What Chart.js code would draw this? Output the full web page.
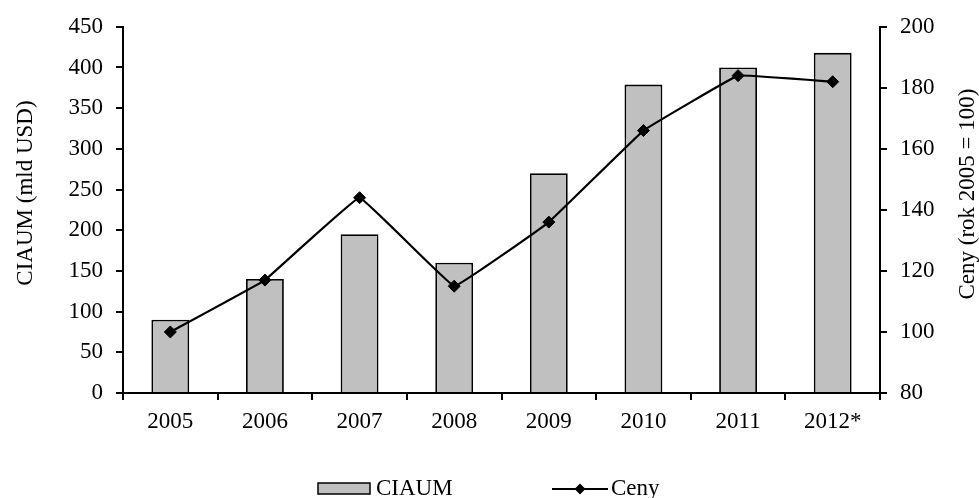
<!DOCTYPE html>
<html><head><meta charset="utf-8">
<script src="https://cdn.jsdelivr.net/npm/chart.js@4.4.1/dist/chart.umd.min.js"></script>
<style>html,body{margin:0;padding:0;background:#fff;}#wrap{width:979px;height:498px;position:relative;}</style>
</head><body><div id="wrap"><canvas id="c" width="979" height="498"></canvas></div>
<script>
const categories = ['2005','2006','2007','2008','2009','2010','2011','2012*'];
const ciaumValues = [90, 140, 195, 160, 270, 379, 400, 418];
const cenyValues = [100, 117, 144, 115, 136, 166, 184, 182];
const seriesNames = ['CIAUM', 'Ceny'];
const leftAxisTitle = 'CIAUM (mld USD)';
const rightAxisTitle = 'Ceny (rok 2005 = 100)';
const leftAxisRange = [0, 450, 50];
const rightAxisRange = [80, 200, 20];

const FONT = '"Liberation Serif", "Times New Roman", serif';
const fontSpec = {family: FONT, size: 23};

const deco = {
  id: 'deco',
  afterDraw(chart) {
    const ctx = chart.ctx;
    const ds = chart.data.datasets;
    ctx.save();
    ctx.font = '23px ' + FONT;
    ctx.fillStyle = '#000';
    ctx.textAlign = 'center';
    ctx.textBaseline = 'middle';
    // axis titles
    ctx.save(); ctx.translate(26, 193); ctx.rotate(-Math.PI / 2); ctx.fillText(leftAxisTitle, 0, 0); ctx.restore();
    ctx.save(); ctx.translate(968, 194); ctx.rotate(-Math.PI / 2); ctx.fillText(rightAxisTitle, 0, 0); ctx.restore();
    // legend
    const ly = 489;
    ctx.fillStyle = ds[0].backgroundColor;
    ctx.fillRect(318, 483, 52, 11);
    ctx.strokeStyle = '#000'; ctx.lineWidth = 1.5;
    ctx.strokeRect(318, 483, 52, 11);
    ctx.fillStyle = '#000';
    ctx.textAlign = 'left';
    ctx.fillText(ds[0].label, 376, ly);
    ctx.beginPath(); ctx.moveTo(552, ly); ctx.lineTo(608, ly); ctx.lineWidth = 2; ctx.stroke();
    ctx.beginPath(); ctx.moveTo(580, ly - 5.5); ctx.lineTo(585.5, ly); ctx.lineTo(580, ly + 5.5); ctx.lineTo(574.5, ly); ctx.closePath(); ctx.fill();
    ctx.fillText(ds[1].label, 611, ly);
    ctx.restore();
  }
};

const axisCommon = {
  grid: {drawOnChartArea: false, drawTicks: true, tickLength: 7, color: '#000', lineWidth: 2},
  border: {display: true, color: '#000', width: 2}
};

new Chart(document.getElementById('c'), {
  data: {
    labels: categories,
    datasets: [
      {type: 'bar', label: seriesNames[0], data: ciaumValues, yAxisID: 'y', order: 2,
       backgroundColor: '#c0c0c0', borderColor: '#000', borderWidth: 1.8,
       barPercentage: 0.40, categoryPercentage: 1.0},
      {type: 'line', label: seriesNames[1], data: cenyValues, yAxisID: 'y1', order: 1,
       borderColor: '#000', borderWidth: 2.2, tension: 0.05,
       pointStyle: 'rectRot', pointRadius: 6, pointHoverRadius: 6,
       pointBackgroundColor: '#000', pointBorderColor: '#000', pointBorderWidth: 1}
    ]
  },
  options: {
    responsive: false, animation: false, devicePixelRatio: 1,
    layout: {padding: {top: 24, left: 0, right: 0, bottom: 0}},
    plugins: {legend: {display: false}, tooltip: {enabled: false}},
    scales: {
      x: {
        type: 'category', offset: true,
        grid: Object.assign({}, axisCommon.grid, {offset: true}),
        border: axisCommon.border,
        ticks: {font: fontSpec, color: '#000', padding: 8, maxRotation: 0, autoSkip: false},
        afterFit: s => { s.height = 105; }
      },
      y: {
        position: 'left', min: leftAxisRange[0], max: leftAxisRange[1],
        grid: axisCommon.grid, border: axisCommon.border,
        ticks: {stepSize: leftAxisRange[2], font: fontSpec, color: '#000', padding: 13},
        afterFit: s => { s.width = 123; }
      },
      y1: {
        position: 'right', min: rightAxisRange[0], max: rightAxisRange[1],
        grid: axisCommon.grid, border: axisCommon.border,
        ticks: {stepSize: rightAxisRange[2], font: fontSpec, color: '#000', padding: 13},
        afterFit: s => { s.width = 99; }
      }
    }
  },
  plugins: [deco]
});
</script></body></html>
